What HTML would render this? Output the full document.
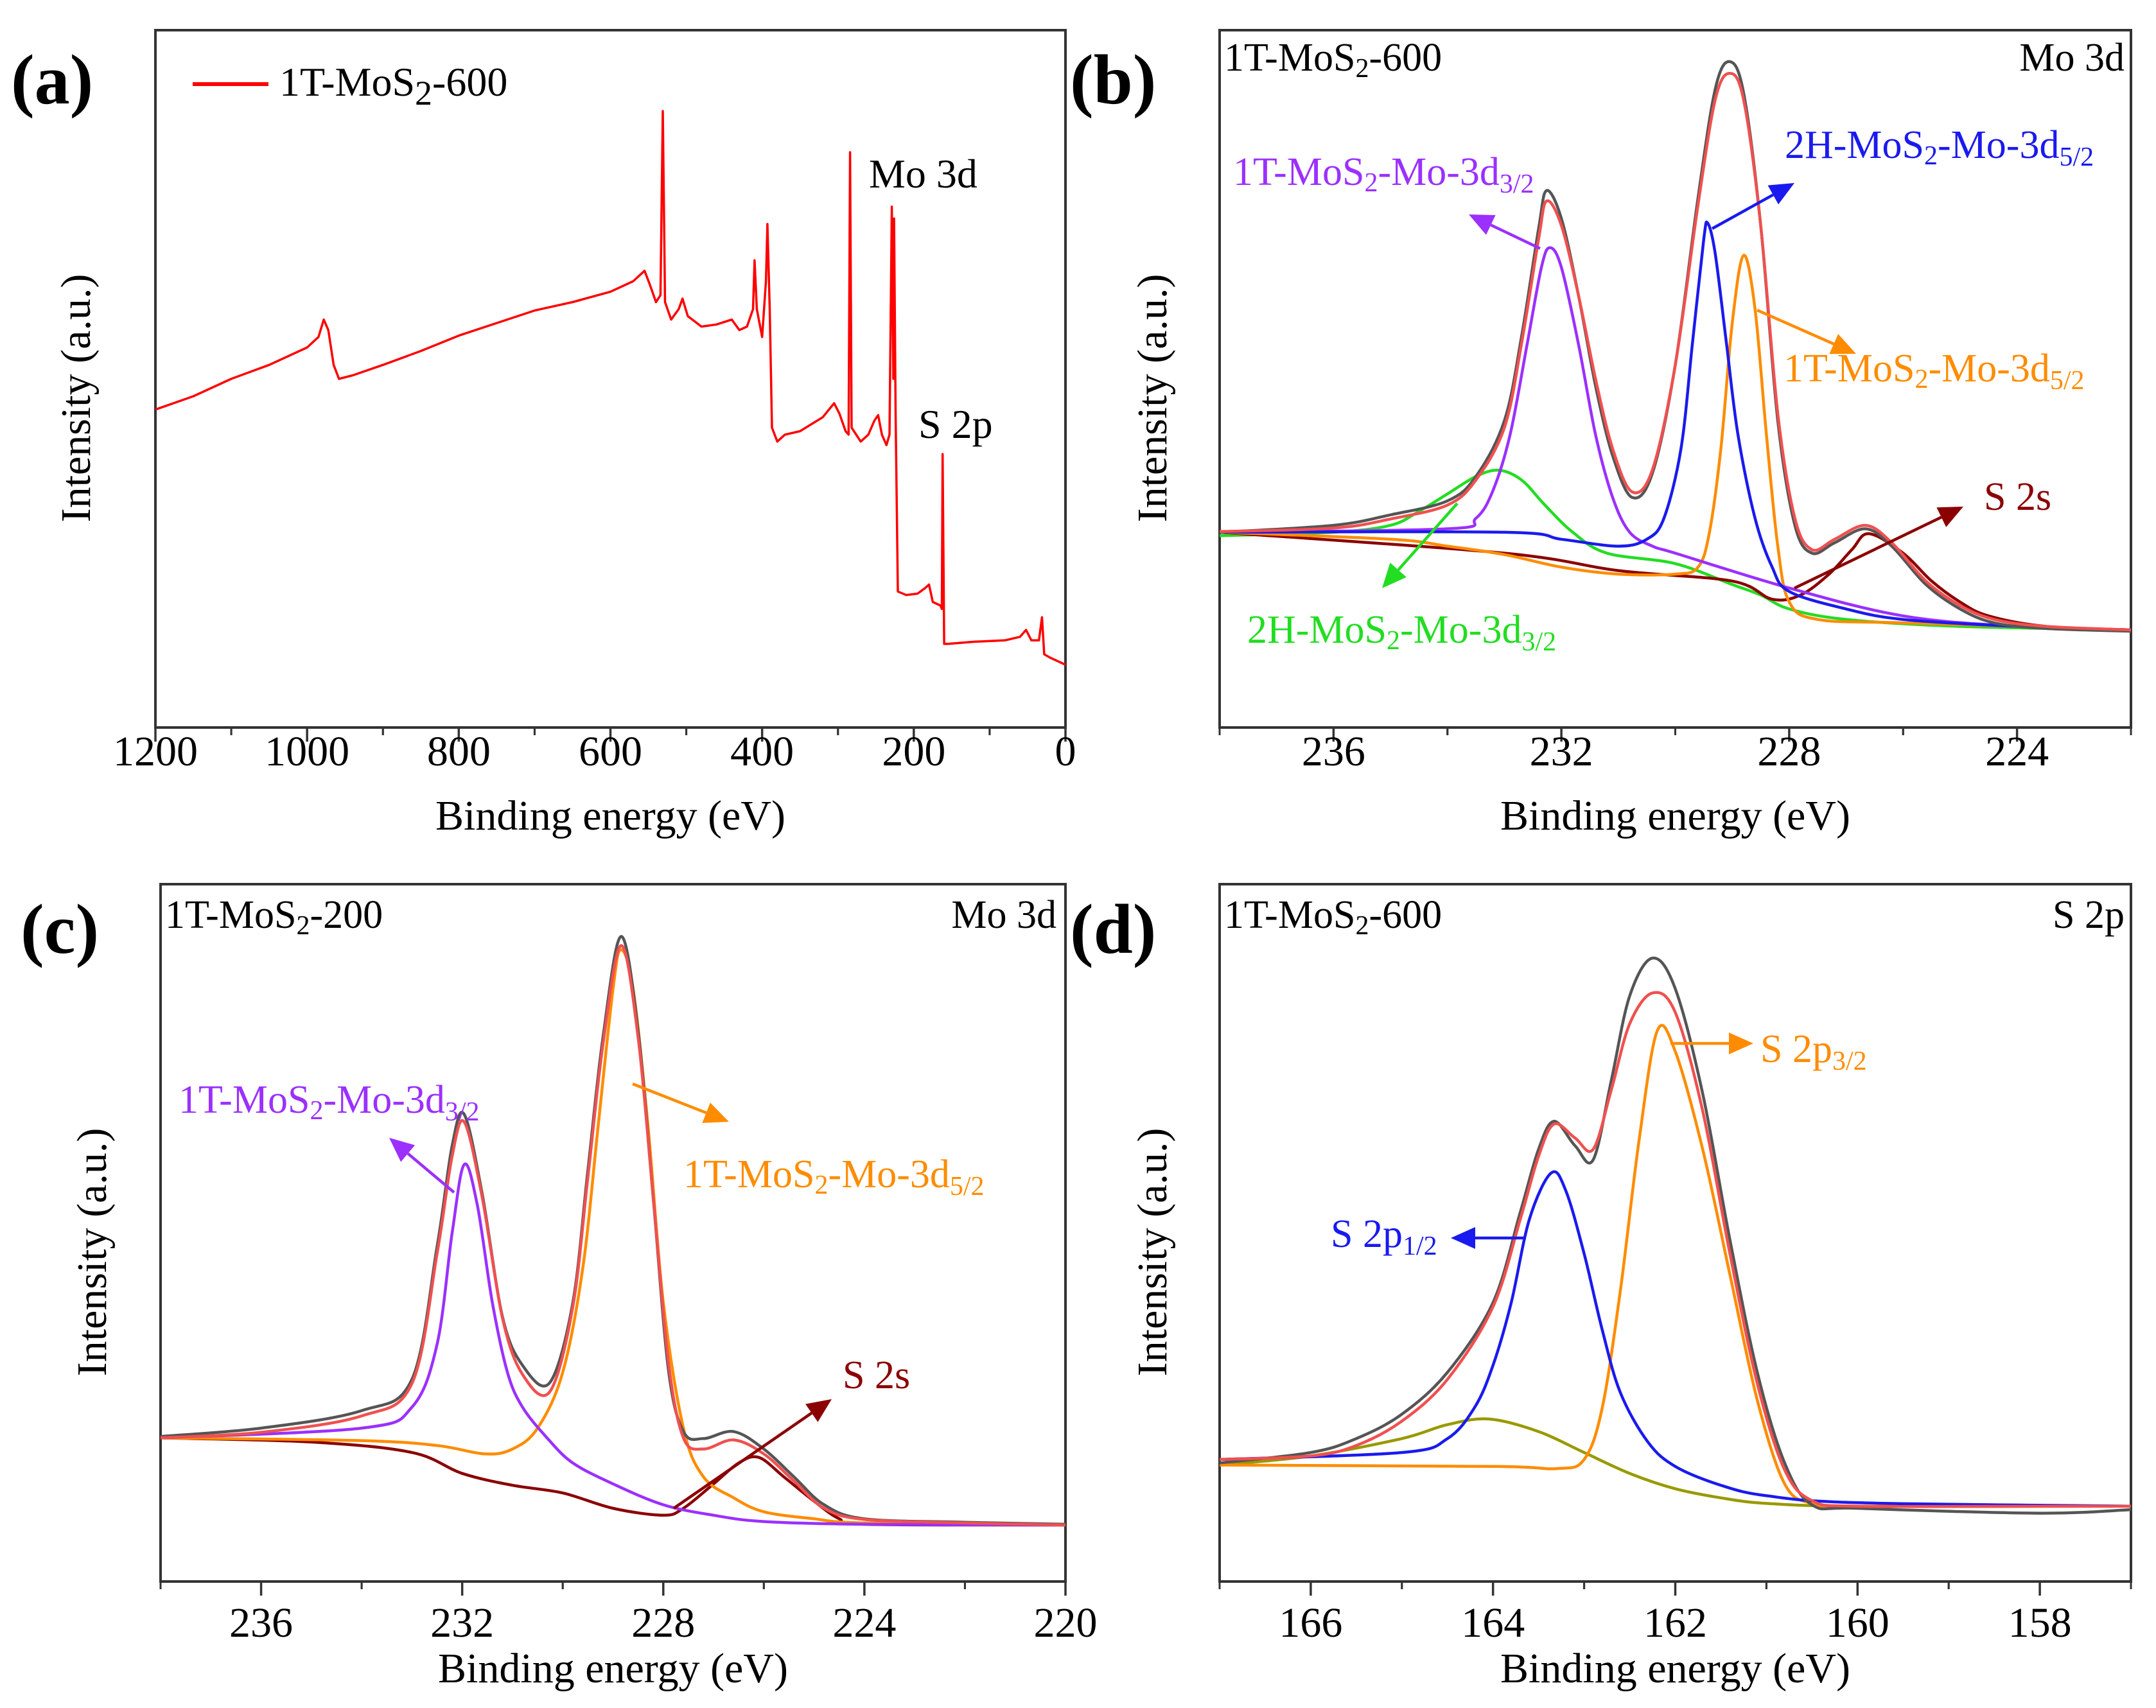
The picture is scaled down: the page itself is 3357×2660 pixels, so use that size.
<!DOCTYPE html>
<html><head><meta charset="utf-8">
<style>
html,body{margin:0;padding:0;background:#fff;}
svg{display:block;font-family:"Liberation Serif",serif;}
</style></head>
<body>
<svg id="fig" width="3357" height="2660" viewBox="0 0 3357 2660" xmlns="http://www.w3.org/2000/svg">
<rect width="3357" height="2660" fill="#fff"/>
<defs>
<marker id="ah-purple" markerWidth="10" markerHeight="10" refX="8" refY="5" orient="auto" markerUnits="userSpaceOnUse" viewBox="0 0 10 10"><path d="M0,0 L10,5 L0,10z" fill="#9b30ff"/></marker>
</defs>
<g id="plots"></g>
<!-- panel labels -->
<text x="17" y="161" font-size="110" font-weight="bold">(a)</text>
<text x="1666" y="161" font-size="110" font-weight="bold">(b)</text>
<text x="32" y="1484" font-size="110" font-weight="bold">(c)</text>
<text x="1666" y="1484" font-size="110" font-weight="bold">(d)</text>
<!-- panel a annotations -->
<line x1="300" y1="131" x2="418" y2="131" stroke="#ff0000" stroke-width="6"/>
<text x="435" y="149" font-size="64">1T-MoS<tspan font-size="54" dy="14">2</tspan><tspan dy="-14">-600</tspan></text>
<text x="1353" y="292" font-size="64">Mo 3d</text>
<text x="1430" y="682" font-size="64">S 2p</text>
<!-- panel b annotations -->
<text x="1906" y="110" font-size="62">1T-MoS<tspan font-size="42" dy="10">2</tspan><tspan dy="-10">-600</tspan></text>
<text x="3308" y="110" font-size="62" text-anchor="end">Mo 3d</text>
<text x="1920" y="288" font-size="62" fill="#9b30ff">1T-MoS<tspan font-size="42" dy="10">2</tspan><tspan dy="-10">-Mo-3d</tspan><tspan font-size="42" dy="12">3/2</tspan></text>
<text x="2779" y="246" font-size="62" fill="#1a1aee">2H-MoS<tspan font-size="42" dy="10">2</tspan><tspan dy="-10">-Mo-3d</tspan><tspan font-size="42" dy="12">5/2</tspan></text>
<text x="2777" y="594" font-size="62" fill="#ff8c00">1T-MoS<tspan font-size="42" dy="10">2</tspan><tspan dy="-10">-Mo-3d</tspan><tspan font-size="42" dy="12">5/2</tspan></text>
<text x="3089" y="794" font-size="62" fill="#8b0000">S 2s</text>
<text x="1942" y="1001" font-size="62" fill="#22dd22">2H-MoS<tspan font-size="42" dy="10">2</tspan><tspan dy="-10">-Mo-3d</tspan><tspan font-size="42" dy="12">3/2</tspan></text>
<!-- panel c annotations -->
<text x="257" y="1445" font-size="62">1T-MoS<tspan font-size="42" dy="10">2</tspan><tspan dy="-10">-200</tspan></text>
<text x="1645" y="1445" font-size="62" text-anchor="end">Mo 3d</text>
<text x="278" y="1733" font-size="62" fill="#9b30ff">1T-MoS<tspan font-size="42" dy="10">2</tspan><tspan dy="-10">-Mo-3d</tspan><tspan font-size="42" dy="12">3/2</tspan></text>
<text x="1064" y="1849" font-size="62" fill="#ff8c00">1T-MoS<tspan font-size="42" dy="10">2</tspan><tspan dy="-10">-Mo-3d</tspan><tspan font-size="42" dy="12">5/2</tspan></text>
<text x="1312" y="2162" font-size="62" fill="#8b0000">S 2s</text>
<!-- panel d annotations -->
<text x="1906" y="1445" font-size="62">1T-MoS<tspan font-size="42" dy="10">2</tspan><tspan dy="-10">-600</tspan></text>
<text x="3308" y="1445" font-size="62" text-anchor="end">S 2p</text>
<text x="2741" y="1654" font-size="62" fill="#ff8c00">S 2p<tspan font-size="42" dy="12">3/2</tspan></text>
<text x="2072" y="1942" font-size="62" fill="#1a1aee">S 2p<tspan font-size="42" dy="12">1/2</tspan></text>
</svg>
<script>
// ---------- data ----------
const surveyBE=[1200,1150,1100,1050,1000,985,978,972,965,958,940,900,850,800,750,700,650,600,570,555,548,540,534,531,528,520,510,505,498,480,460,440,430,420,412,410,407,400,395,393,390,387,380,370,350,320,305,298,290,286,284,282,270,260,252,247,242,236,232,229,227,226,224,221,210,195,185,180,175,165,163,162,160,155,120,80,60,52,45,35,31,28,20,10,0];
const surveyI=[45.6,47.5,50,52,54.5,56,58.5,57,52,50,50.5,52,54,56.2,58,59.8,61,62.5,64,65.5,63.5,61,62,88.4,61,58.5,60,61.5,59,57.5,57.8,58.5,57,57.5,60,67,60,56,64,72.2,60,43,41,42,42.5,44.5,46.5,45,42.5,42,82.5,43,41,42,44,44.8,42,40.5,42,74.7,50,73,45,19.5,19,19.2,20,20.5,18,17.5,17,39.2,12,12,12.3,12.5,13,14,12.5,12.5,15.8,10.5,10,9.5,9];

const bEnvBE=[238,236,235,234,233.5,233,232.7,232.4,232.26,232.0,231.7,231.4,231.1,230.76,230.4,230.0,229.6,229.3,229.05,228.8,228.5,228.2,227.9,227.6,227.2,226.66,226.2,225.6,225,224.4,223.5,222];
const bEnvI=[28.1,28.6,29.9,31.9,35.5,43,55,70,75.5,72,62,50,40,33.8,37,52,75,90,93.8,90,72,45,30,25.5,27,29,26.5,21,17.5,15.5,14.5,14];
const bRawI=[28,29,30.5,32.5,36,44,56,71.5,77,73,62,49,39,33,36.5,52,76,91.5,95.5,91,72,44,29,25,26.5,28.5,26,20.5,17,15,14.2,13.8];
const bPurBE=[238,234,233.5,233.2,232.9,232.6,232.35,232.2,232.0,231.7,231.4,231.1,230.8,230.4,230,228,226,224,222];
const bPurI=[28,28.5,30,34,42,55,66,68.8,66,55,42,33,28,26,25,20,16,14.5,14];
const bGrnBE=[238,236,235,234.5,234,233.5,233.1,232.7,232.3,231.8,231.2,230,229,228.5,228,227,225,222];
const bGrnI=[27.5,28,29,31,33.5,36,36.9,35.5,32,28,25,23.5,20.5,19,17,15.5,14.5,14];
const bBluBE=[238,233,232,231,230.5,230.2,229.9,229.7,229.5,229.43,229.3,229.1,228.9,228.6,228.3,228,227,226,224,222];
const bBluI=[28,28,27,26,27,30,40,55,70,72.3,68,55,42,30,23,19.5,17,15.5,14.5,14];
const bOrnBE=[238,235,234,233,232,231,230,229.6,229.4,229.2,229.0,228.8,228.6,228.4,228.2,228,227.5,226,222];
const bOrnI=[28,27,26,24.8,23,22,22,23,28,40,58,67.7,60,42,26,18,15.5,15,14];
const bDrdBE=[238,233,231,229,228.3,227.8,227.3,226.9,226.6,226,225.5,225,224.5,223.5,222];
const bDrdI=[28,25,22.5,21,18.4,19,22,25.5,27.8,25,21,18,16,14.5,14];

const cEnvBE=[238,236,234,233,232.5,232.2,231.96,231.6,231.2,230.8,230.26,229.8,229.5,229.2,228.84,228.5,228.2,227.9,227.6,227.2,226.6,226,225.4,224.8,224,222,220];
const cEnvI=[20.6,21.4,23.75,28.4,47,61,65.9,55,37.8,29.7,27.2,39.4,58,77,91.2,78,55,31.6,20.6,19,20.3,18.3,14.4,10.5,8.9,8.4,8.1];
const cRawI=[20.8,22,24.5,29,48,62.5,67,55.5,38,31,28.5,40,59,78,92.5,79,55,30.5,21.5,20.5,21.5,19,15,11,9,8.5,8.2];
const cPurBE=[238,234,233,232.5,232.2,231.96,231.7,231.4,231.1,230.8,230.3,229.8,229,228,227,226,224,220];
const cPurI=[20.6,22,25,34,50,59.8,54,40,30,25,20.5,17,14,11,9.5,8.6,8.2,8.1];
const cOrnBE=[238,234,232.5,231.55,231,230.5,230,229.6,229.3,229.0,228.84,228.6,228.3,228.0,227.6,227.2,226.6,226,225,224,220];
const cOrnI=[20.6,20.2,19.5,18.3,19,22,30,45,65,85,90.6,85,65,40,22,15,12,10,9,8.4,8.1];
const cDrdBE=[238,235,233,232,231,230,229,228,227.6,227,226.5,226.1,225.6,225,224.5,224,220];
const cDrdI=[20.6,20,18.5,15.5,13.8,12.7,10.5,9.5,10.5,14,17,17.8,15,11.5,9,8.2,8.1];

const dEnvBE=[167,166,165.5,165,164.5,164,163.7,163.5,163.33,163.1,162.9,162.7,162.5,162.25,162.0,161.7,161.4,161.1,160.8,160.5,160,158,157];
const dEnvI=[17.5,18,19.5,23,29,39.4,52,61,65.6,63.6,62,70.6,80,84.4,81.6,67.5,47,28.4,16,11.6,10.8,10.8,10.8];
const dRawI=[17,18.5,20.5,24,30,40,53,62,66,62.5,60.5,72,84,89.4,85,70,49,30,17,11,10.5,9.8,10.3];
const dBluBE=[167,165,164.5,164.2,164,163.8,163.6,163.36,163.2,163.0,162.8,162.6,162.3,162,161.5,161,160,157];
const dBluI=[17.5,18.5,20.5,25,31,40,52,58.6,56,47,36,27,20,16.5,13.8,12.3,11.3,10.8];
const dOrnBE=[167,164,163.3,163,162.8,162.6,162.4,162.2,162.0,161.7,161.4,161.1,160.8,160.5,160,157];
const dOrnI=[16.7,16.5,16.2,17.5,25,42,63,78.9,76,62,44,26,14,11.2,10.8,10.8];
const dOlvBE=[167,166,165,164.5,164.04,163.5,163,162.5,162,161.5,161,160,157];
const dOlvI=[16.7,18,20.5,22.5,23.3,21.5,18.5,15.5,13.3,12,11.2,10.8,10.8];

const aTicks=[1200,1000,800,600,400,200,0];
const bTicks=[236,232,228,224];
const cTicks=[236,232,228,224,220];
const dTicks=[166,164,162,160,158];

// ---------- drawing ----------
const NS="http://www.w3.org/2000/svg";
const root=document.getElementById('plots');
function mk(tag,attrs,parent){const e=document.createElementNS(NS,tag);for(const k in attrs)e.setAttribute(k,attrs[k]);(parent||root).appendChild(e);return e;}

function makePanel(id,x0,x1,y0,y1,beL,beR){
  return {id,x0,x1,y0,y1,sx:be=>x0+(beL-be)/(beL-beR)*(x1-x0),sy:v=>y1-v/100*(y1-y0)};
}
const pa=makePanel('a',242,1659,47,1133,1200,0);
const pb=makePanel('b',1899,3318,47,1133,238,222);
const pc=makePanel('c',250,1659,1377,2463,238,220);
const pd=makePanel('d',1899,3318,1377,2463,167,157);

function linePath(p,xs,ys){return xs.map((b,i)=>(i?'L':'M')+p.sx(b).toFixed(1)+','+p.sy(ys[i]).toFixed(1)).join('');}
function smoothPath(p,xs,ys){
  const P=xs.map((b,i)=>[p.sx(b),p.sy(ys[i])]);
  let d='M'+P[0][0].toFixed(1)+','+P[0][1].toFixed(1);
  for(let i=0;i<P.length-1;i++){
    const a=P[i-1]||P[i],b=P[i],c=P[i+1],e=P[i+2]||c;
    const c1=[b[0]+(c[0]-a[0])/6,b[1]+(c[1]-a[1])/6];
    const c2=[c[0]-(e[0]-b[0])/6,c[1]-(e[1]-b[1])/6];
    d+='C'+c1[0].toFixed(1)+','+c1[1].toFixed(1)+' '+c2[0].toFixed(1)+','+c2[1].toFixed(1)+' '+c[0].toFixed(1)+','+c[1].toFixed(1);
  }
  return d;
}
function curve(p,xs,ys,color,name,smooth,w){
  const el=mk('path',{d:smooth?smoothPath(p,xs,ys):linePath(p,xs,ys),fill:'none',stroke:color,'stroke-width':w||4.5,'stroke-linejoin':'round'});
  
  
}
function axes(p,majors,minorStep,titleY,tickY,ytitleX){
  const f=mk('rect',{x:p.x0,y:p.y0,width:p.x1-p.x0,height:p.y1-p.y0,fill:'none',stroke:'#333','stroke-width':4});
  
  
  const beL=Math.max(...[p.x0].map(()=>0));
  majors.forEach(t=>{
    const x=p.sx(t);
    const tk=mk('line',{x1:x,y1:p.y1,x2:x,y2:p.y1+22,stroke:'#333','stroke-width':3.5});
    
    
    const lb=mk('text',{x:x,y:tickY,'font-size':66,'text-anchor':'middle'});
    lb.textContent=t;
    
    
    [t+minorStep,t-minorStep].forEach(m=>{
      const mx=p.sx(m);
      if(mx>=p.x0-1&&mx<=p.x1+1){
        const mt=mk('line',{x1:mx,y1:p.y1,x2:mx,y2:p.y1+12,stroke:'#333','stroke-width':3});
        
        
      }
    });
  });
  const xt=mk('text',{x:(p.x0+p.x1)/2,y:titleY,'font-size':66,'text-anchor':'middle'});
  xt.textContent='Binding energy (eV)';
  
  
  const cy=(p.y0+p.y1)/2+30;
  const yt=mk('text',{x:0,y:0,'font-size':66,'text-anchor':'middle',transform:'translate('+ytitleX+','+cy+') rotate(-90)'});
  yt.textContent='Intensity (a.u.)';
  
  
}
function arrow(x1,y1,x2,y2,color,name){
  const g=mk('g',{});
  
  
  const ang=Math.atan2(y2-y1,x2-x1),L=38,W=17;
  const bx=x2-L*Math.cos(ang),by=y2-L*Math.sin(ang);
  mk('line',{x1,y1,x2:bx,y2:by,stroke:color,'stroke-width':4.5},g);
  const px=-Math.sin(ang)*W,py=Math.cos(ang)*W;
  mk('path',{d:`M${x2},${y2}L${bx+px},${by+py}L${bx-px},${by-py}Z`,fill:color},g);
}

axes(pa,aTicks,100,1292,1192,140);
axes(pb,bTicks,2,1292,1192,1816);
axes(pc,cTicks,2,2620,2549,165);
axes(pd,dTicks,1,2620,2549,1816);

curve(pa,surveyBE,surveyI,'#ff0000','survey-spectrum',false,3.5);

curve(pb,bGrnBE,bGrnI,'#22dd22','peak-2h-3d32-b',true);
curve(pb,bDrdBE,bDrdI,'#8b0000','peak-s2s-b',true);
curve(pb,bOrnBE,bOrnI,'#ff8c00','peak-1t-3d52-b',true);
curve(pb,bPurBE,bPurI,'#9b30ff','peak-1t-3d32-b',true);
curve(pb,bBluBE,bBluI,'#1a1aee','peak-2h-3d52-b',true);
curve(pb,bEnvBE,bRawI,'#555555','raw-spectrum-b',true);
curve(pb,bEnvBE,bEnvI,'#f05050','envelope-b',true);

curve(pc,cDrdBE,cDrdI,'#8b0000','peak-s2s-c',true);
curve(pc,cOrnBE,cOrnI,'#ff8c00','peak-1t-3d52-c',true);
curve(pc,cPurBE,cPurI,'#9b30ff','peak-1t-3d32-c',true);
curve(pc,cEnvBE,cRawI,'#555555','raw-spectrum-c',true);
curve(pc,cEnvBE,cEnvI,'#f05050','envelope-c',true);

curve(pd,dOlvBE,dOlvI,'#999900','background-peak-d',true);
curve(pd,dOrnBE,dOrnI,'#ff8c00','peak-s2p32-d',true);
curve(pd,dBluBE,dBluI,'#1a1aee','peak-s2p12-d',true);
curve(pd,dEnvBE,dRawI,'#555555','raw-spectrum-d',true);
curve(pd,dEnvBE,dEnvI,'#f05050','envelope-d',true);

arrow(2398,387,2287,334,'#9b30ff','arrow-1t-3d32-b');
arrow(2666,356,2794,285,'#1a1aee','arrow-2h-3d52-b');
arrow(2736,483,2890,551,'#ff8c00','arrow-1t-3d52-b');
arrow(2794,916,3057,789,'#8b0000','arrow-s2s-b');
arrow(2269,784,2152,916,'#22dd22','arrow-2h-3d32-b');
arrow(707,1857,606,1772,'#9b30ff','arrow-1t-3d32-c');
arrow(985,1688,1135,1747,'#ff8c00','arrow-1t-3d52-c');
arrow(1049,2349,1295,2179,'#8b0000','arrow-s2s-c');
arrow(2601,1625,2730,1625,'#ff8c00','arrow-s2p32-d');
arrow(2376,1928,2259,1928,'#1a1aee','arrow-s2p12-d');
</script>
</body></html>
